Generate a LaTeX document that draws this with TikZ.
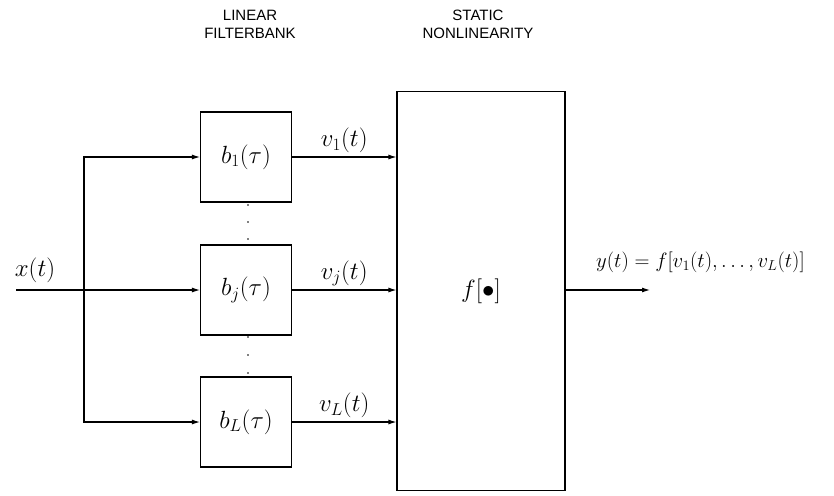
\documentclass[tikz,border=0pt]{standalone}
\usepackage{fontspec}
\newfontfamily\headfont{Liberation Sans}
\usetikzlibrary{positioning, arrows.meta}

\begin{document}
\begin{tikzpicture}[
        x=1pt, y=-1pt,
        filt/.style={
            draw, line width=1.1pt,
            minimum width=91pt, minimum height=90pt,
            inner sep=0pt, font=\fontsize{23}{26}\selectfont
        },
        nonlin/.style={
            draw, line width=1.1pt,
            minimum width=168pt, minimum height=399pt,
            font=\fontsize{23}{26}\selectfont
        },
        head/.style={font=\headfont\fontsize{15}{18}\selectfont, align=center},
        lbl/.style={font=\fontsize{23}{26}\selectfont},
        arr/.style={-{Latex[length=8pt, width=5pt]}, line width=1.1pt}
    ]
    \useasboundingbox (0,0) rectangle (834,495);

    \node[head] (tfb) at (250,24) {LINEAR\\FILTERBANK};
    \node[head] (tsn) at (478,24) {STATIC\\NONLINEARITY};

    \node[filt] (b1) at (246,157) {$b_1(\tau)$};
    \node[filt] (bj) at (246,290) {$b_j(\tau)$};
    \node[filt] (bL) at (246,422) {$b_L(\tau)$};
    \node[nonlin] (f) at (481,291) {$f[\bullet]$};

    \coordinate (in) at (16,290);
    \coordinate (split) at (84,290);
    \coordinate (out) at (650,290);

    % input and branches
    \node[lbl] (xin) at (35,270) {$x(t)$};
    \draw[arr] (in) -- (bj.west);
    \draw[arr] (split) |- (b1.west);
    \draw[arr] (split) |- (bL.west);

    % filter outputs
    \draw[arr] (b1.east) -- (b1.east -| f.west) node[midway, above, lbl] {$v_1(t)$};
    \draw[arr] (bj.east) -- (bj.east -| f.west) node[midway, above, lbl] {$v_j(t)$};
    \draw[arr] (bL.east) -- (bL.east -| f.west) node[midway, above, lbl] {$v_L(t)$};

    \foreach \y in {205,222,239,337,355,373}
      \fill (248,\y) circle (0.9pt);

    % output
    \draw[arr] (f.east |- out) -- (out);
    \node[lbl, font=\fontsize{22}{25}\selectfont, anchor=west, inner sep=0pt]
      (yout) at (596,262) {$y(t)=f\bigl[v_1(t),\ldots,v_L(t)\bigr]$};
\end{tikzpicture}
\end{document}
